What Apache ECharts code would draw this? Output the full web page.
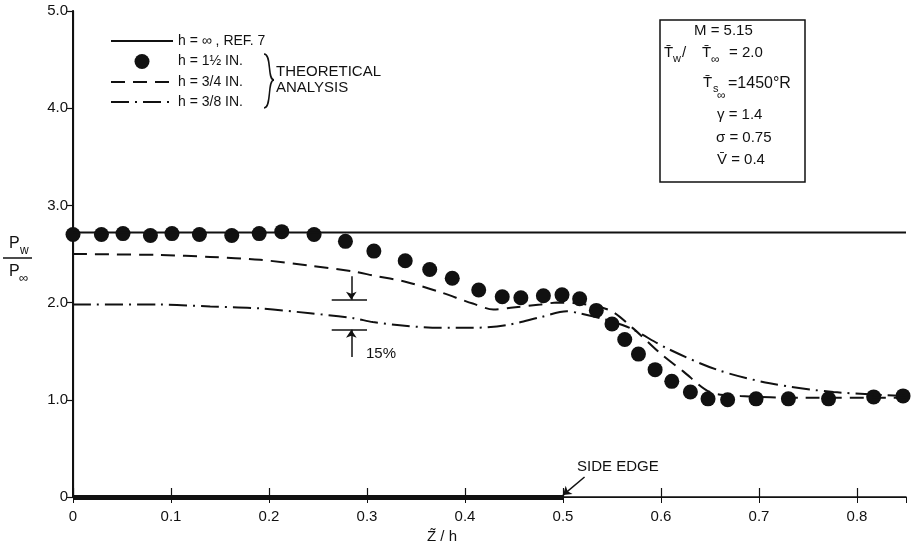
<!DOCTYPE html>
<html lang="en">
<head>
<meta charset="UTF-8">
<title>Pw/Pinf vs Z/h</title>
<style>
  html, body { margin: 0; padding: 0; background: #fff; }
  #chart { width: 912px; height: 552px; }
</style>
<script src="https://cdn.jsdelivr.net/npm/echarts@6/dist/echarts.min.js"></script>
</head>
<body>
<div id="chart"></div>
<script>
// values: x = Z/h, y = Pw/Pinf
var refX = [0, 0.85];
var refY = [2.72, 2.72];

var dotX = [0.00, 0.029, 0.051, 0.079, 0.101, 0.129, 0.162, 0.190, 0.213, 0.246,
            0.278, 0.307, 0.339, 0.364, 0.387, 0.414, 0.438, 0.457, 0.480, 0.499,
            0.517, 0.534, 0.550, 0.563, 0.577, 0.594, 0.611, 0.630, 0.648, 0.668,
            0.697, 0.730, 0.771, 0.817, 0.847];
var dotY = [2.70, 2.70, 2.71, 2.69, 2.71, 2.70, 2.69, 2.71, 2.73, 2.70,
            2.63, 2.53, 2.43, 2.34, 2.25, 2.13, 2.06, 2.05, 2.07, 2.08,
            2.04, 1.92, 1.78, 1.62, 1.47, 1.31, 1.19, 1.08, 1.01, 1.00,
            1.01, 1.01, 1.01, 1.03, 1.04];

var dashX = [0, 0.089, 0.140, 0.191, 0.242, 0.286, 0.306, 0.341, 0.374, 0.408, 0.429, 0.449,
             0.477, 0.494, 0.517, 0.548, 0.571, 0.599, 0.623, 0.650, 0.681, 0.742, 0.85];
var dashY = [2.50, 2.49, 2.47, 2.44, 2.38, 2.32, 2.28, 2.21, 2.11, 1.99, 1.93, 1.95,
             1.98, 2.00, 1.99, 1.92, 1.74, 1.48, 1.29, 1.08, 1.04, 1.02, 1.02];

var dashDotX = [0, 0.089, 0.140, 0.191, 0.242, 0.286, 0.306, 0.341, 0.374, 0.408, 0.443,
                0.477, 0.504, 0.517, 0.545, 0.568, 0.606, 0.657, 0.711, 0.776, 0.85];
var dashDotY = [1.98, 1.98, 1.96, 1.94, 1.89, 1.84, 1.80, 1.76, 1.74, 1.74, 1.77,
                1.85, 1.91, 1.89, 1.82, 1.74, 1.53, 1.31, 1.17, 1.08, 1.04];

var xTickLabels = ['0', '0.1', '0.2', '0.3', '0.4', '0.5', '0.6', '0.7', '0.8'];
var yTickLabels = ['0', '1.0', '2.0', '3.0', '4.0', '5.0'];

var names = ['h = \u221E , REF. 7', 'h = 1\u00BD IN.', 'h = 3/4 IN.', 'h = 3/8 IN.'];

// annotation marks (data coords)
var pctLineX = [0.264, 0.300];
var pctLineY = [2.03, 1.72];
var pctArrowX = 0.284;
var pctArrowFrom = [2.27, 1.44];
var sideEdgeArrow = [[0.522, 0.206], [0.5, 0.02]];

function zip(xs, ys) {
  return xs.map(function (x, i) { return [x, ys[i]]; });
}

var ink = '#111';
var font = 'Liberation Sans, Arial, sans-serif';
var chart = echarts.init(document.getElementById('chart'));

function txt(x, y, s, size, align) {
  return {
    type: 'text', x: x, y: y, silent: true,
    style: { text: s, fill: ink, font: (size || 15) + 'px ' + font,
             textAlign: align || 'left', textVerticalAlign: 'middle' }
  };
}

// line entries in the legend: keep the stroke, hide the marker dot
var noDot = { opacity: 0 };

chart.setOption({
  animation: false,
  backgroundColor: '#fff',
  grid: { left: 73, right: 6, top: 11, bottom: 55 },
  legend: {
    data: [
      { name: names[0], itemStyle: noDot },
      { name: names[1] },
      { name: names[2], itemStyle: noDot },
      { name: names[3], itemStyle: noDot }
    ],
    orient: 'vertical', left: 105, top: 29,
    itemWidth: 62, itemHeight: 15, itemGap: 6, selectedMode: false,
    textStyle: { color: ink, fontSize: 14, fontFamily: font }
  },
  xAxis: [{
    type: 'value', position: 'bottom', min: 0, max: 0.85, interval: 0.1,
    axisLine: { lineStyle: { color: ink, width: 1.5 } },
    axisTick: { inside: true, length: 9, lineStyle: { color: ink, width: 1.2 } },
    splitLine: { show: false },
    axisLabel: {
      color: ink, fontSize: 15, fontFamily: font, margin: 12, showMaxLabel: false,
      formatter: function (v) {
        var i = Math.round(v * 10);
        return Math.abs(v * 10 - i) < 1e-6 ? (xTickLabels[i] || '') : '';
      }
    }
  }, {
    type: 'value', position: 'top', min: 0, max: 0.85, interval: 0.1,
    axisLine: { lineStyle: { color: ink, width: 1.2 } },
    axisTick: { inside: true, length: 6, lineStyle: { color: ink } },
    axisLabel: { show: false }, splitLine: { show: false }
  }],
  yAxis: [{
    type: 'value', position: 'left', min: 0, max: 5, interval: 1,
    axisLine: { show: true, lineStyle: { color: ink, width: 2 } },
    axisTick: { show: true, inside: false, length: 5, lineStyle: { color: ink, width: 1.2 } },
    splitLine: { show: false },
    axisLabel: {
      color: ink, fontSize: 15, fontFamily: font, margin: 5,
      formatter: function (v) { return yTickLabels[Math.round(v)]; }
    }
  }, {
    type: 'value', position: 'right', min: 0, max: 5, interval: 1,
    axisLine: { show: true, lineStyle: { color: ink, width: 1.2 } },
    axisTick: { show: true, inside: true, length: 6, lineStyle: { color: ink } },
    axisLabel: { show: false }, splitLine: { show: false }
  }],
  series: [{
    name: names[0], type: 'line', symbol: 'none', data: zip(refX, refY),
    lineStyle: { color: ink, width: 2 }, itemStyle: { color: ink }
  }, {
    name: names[1], type: 'scatter', symbol: 'circle', symbolSize: 15,
    data: zip(dotX, dotY), itemStyle: { color: ink, opacity: 1 }
  }, {
    name: names[2], type: 'line', symbol: 'none', smooth: 0.3, data: zip(dashX, dashY),
    lineStyle: { color: ink, width: 2, type: [14, 8] }, itemStyle: { color: ink }
  }, {
    name: names[3], type: 'line', symbol: 'none', smooth: 0.3, data: zip(dashDotX, dashDotY),
    lineStyle: { color: ink, width: 2, type: [18, 6, 2, 6] }, itemStyle: { color: ink }
  }, {
    name: 'notes', type: 'line', data: [], silent: true,
    markLine: {
      silent: true, animation: false, symbolSize: 8,
      label: { show: false },
      emphasis: { disabled: true },
      lineStyle: { color: ink, width: 1.5, type: 'solid' },
      data: [
        [{ coord: [pctLineX[0], pctLineY[0]], symbol: 'none' }, { coord: [pctLineX[1], pctLineY[0]], symbol: 'none' }],
        [{ coord: [pctLineX[0], pctLineY[1]], symbol: 'none' }, { coord: [pctLineX[1], pctLineY[1]], symbol: 'none' }],
        [{ coord: [pctArrowX, pctArrowFrom[0]], symbol: 'none' }, { coord: [pctArrowX, pctLineY[0]], symbol: 'arrow' }],
        [{ coord: [pctArrowX, pctArrowFrom[1]], symbol: 'none' }, { coord: [pctArrowX, pctLineY[1]], symbol: 'arrow' }],
        [{ coord: sideEdgeArrow[0], symbol: 'none' }, { coord: sideEdgeArrow[1], symbol: 'arrow' }],
        [{ coord: [0, 0], symbol: 'none', lineStyle: { width: 5 } }, { coord: [0.5, 0], symbol: 'none' }],
        [{ coord: [0.5, -0.08], symbol: 'none' }, { coord: [0.5, 0.18], symbol: 'none' }]
      ]
    }
  }],
  graphic: [
    // y axis name as a fraction
    txt(9, 244, 'P', 16), txt(20, 251, 'w', 12),
    { type: 'line', silent: true, shape: { x1: 3, y1: 258, x2: 32, y2: 258 }, style: { stroke: ink, lineWidth: 1.5 } },
    txt(9, 272, 'P', 16), txt(19, 278, '\u221E', 13),
    // x axis name
    txt(442, 537, 'Z\u0303 / h', 15, 'center'),
    // brace + group label
    { type: 'bezierCurve', silent: true,
      shape: { x1: 264, y1: 54, cpx1: 272, cpy1: 54, cpx2: 267, cpy2: 80, x2: 274, y2: 80 },
      style: { stroke: ink, fill: 'none', lineWidth: 1.5 } },
    { type: 'bezierCurve', silent: true,
      shape: { x1: 274, y1: 80, cpx1: 267, cpy1: 80, cpx2: 272, cpy2: 108, x2: 264, y2: 108 },
      style: { stroke: ink, fill: 'none', lineWidth: 1.5 } },
    txt(276, 72, 'THEORETICAL', 15), txt(276, 88, 'ANALYSIS', 15),
    // parameter box
    { type: 'rect', silent: true, shape: { x: 660, y: 20, width: 145, height: 162 },
      style: { stroke: ink, fill: 'none', lineWidth: 1.5 } },
    txt(694, 31, 'M = 5.15'),
    txt(664, 53, 'T\u0304'), txt(673, 59, 'w', 11), txt(682, 53, '/'),
    txt(702, 53, 'T\u0304'), txt(711, 60, '\u221E', 12), txt(729, 53, '= 2.0'),
    txt(703, 83, 'T\u0304'), txt(713, 89, 's', 11), txt(717, 96, '\u221E', 12), txt(728, 84, '=1450\u00B0R', 16),
    txt(717, 115, '\u03B3 = 1.4'),
    txt(716, 138, '\u03C3 = 0.75'),
    txt(717, 160, 'V\u0304 = 0.4'),
    // annotations
    txt(366, 354, '15%'),
    txt(577, 467, 'SIDE EDGE', 15)
  ]
});
</script>
</body>
</html>
